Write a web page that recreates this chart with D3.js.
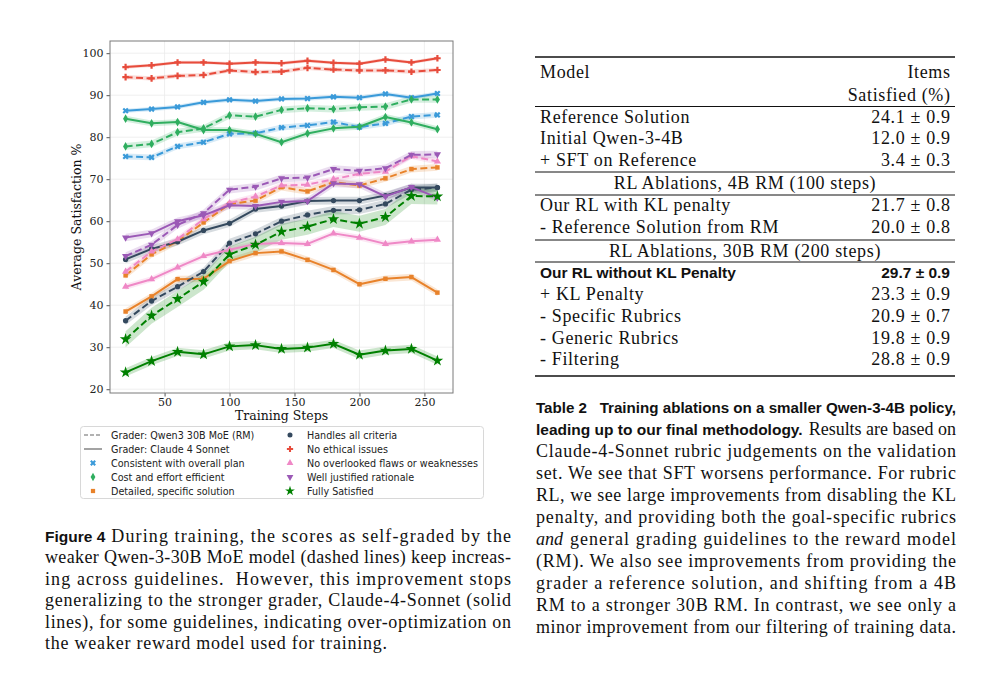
<!DOCTYPE html>
<html><head><meta charset="utf-8">
<script src="https://cdn.jsdelivr.net/npm/d3@7"></script>
<style>
body{margin:0;background:#fff;}
svg{display:block;}
</style></head>
<body>
<svg id="c" width="990" height="675"></svg>
<script>
// ---------------- DATA ----------------
const steps = [20,40,60,80,100,120,140,160,180,200,220,240,260];
const xTicks = [50,100,150,200,250];
const yTicks = [20,30,40,50,60,70,80,90,100];

const consistentQwen   = [75.4,75.2,77.8,78.8,80.8,80.9,82.3,82.8,83.6,82.4,83.3,84.9,85.3];
const consistentClaude = [86.3,86.7,87.2,88.3,88.9,88.6,89.1,89.2,89.6,89.4,90.3,89.4,90.4];
const costQwen         = [77.8,78.4,81.2,82.1,85.2,84.9,86.5,86.9,86.7,87.1,87.3,89.0,89.0];
const costClaude       = [84.4,83.3,83.6,81.7,81.7,80.8,78.8,80.9,82.1,82.5,84.8,83.5,81.9];
const detailedQwen     = [47.1,52.1,55.2,59.7,64.1,64.9,68.1,67.1,69.3,68.5,70.2,72.4,72.8];
const detailedClaude   = [38.5,42.1,46.2,46.3,50.5,52.4,52.8,50.8,48.4,45.0,46.3,46.7,43.0];
const handlesQwen      = [36.3,41.0,44.4,48.0,54.8,57.0,60.0,61.5,62.6,62.7,64.1,67.5,68.0];
const handlesClaude    = [50.9,53.4,55.1,57.8,59.5,62.9,63.6,64.8,64.9,64.9,66.1,68.0,68.0];
const ethicalQwen      = [94.3,94.0,94.6,94.8,95.9,95.5,95.6,96.5,96.1,95.9,95.9,95.6,96.0];
const ethicalClaude    = [96.7,97.1,97.8,97.8,97.5,97.8,97.6,98.2,97.7,97.5,98.5,97.8,98.8];
const overlookedQwen   = [48.0,52.8,55.7,60.5,64.3,65.9,68.5,68.7,70.0,71.3,71.8,75.5,74.2];
const overlookedClaude = [44.4,46.2,49.0,51.7,53.2,54.6,54.8,54.6,57.1,56.1,54.6,55.2,55.6];
const justifiedQwen    = [51.7,54.4,59.1,61.9,67.5,68.2,70.2,70.4,72.4,72.0,72.6,75.8,75.9];
const justifiedClaude  = [56.1,57.1,60.0,61.4,63.8,63.6,64.6,64.8,69.0,68.8,65.9,68.1,65.6];
const fullyQwen        = [31.9,37.5,41.5,45.6,52.1,54.4,57.5,58.7,60.5,59.4,61.0,66.0,65.9];
const fullyClaude      = [24.0,26.7,28.9,28.3,30.2,30.5,29.6,29.9,30.8,28.2,29.2,29.6,26.8];

// half-width of shaded bands (qwen, claude)
const bandQwen   = [0.7,0.8,0.8,1.0,0.5,0.7,0.9,1.9];
const bandClaude = [0.5,0.7,0.8,0.9,0.4,0.7,0.9,1.0];

const guidelines = ["Consistent with overall plan","Cost and effort efficient","Detailed, specific solution",
  "Handles all criteria","No ethical issues","No overlooked flaws or weaknesses","Well justified rationale","Fully Satisfied"];
const colors = ["#3a9ad9","#2fae5f","#e8822a","#34495e","#e74c3c","#ef88c6","#9b59b6","#008000"];
const markers = ["x","diamond","square","circle","plus","tri","tridown","star"];
const qwenSeries = [consistentQwen,costQwen,detailedQwen,handlesQwen,ethicalQwen,overlookedQwen,justifiedQwen,fullyQwen];
const claudeSeries = [consistentClaude,costClaude,detailedClaude,handlesClaude,ethicalClaude,overlookedClaude,justifiedClaude,fullyClaude];

const tableRows = [
  {type:"row", model:"Reference Solution", val:"24.1 ± 0.9"},
  {type:"row", model:"Initial Qwen-3-4B", val:"12.0 ± 0.9"},
  {type:"row", model:"+ SFT on Reference", val:"3.4 ± 0.3"},
  {type:"sec", model:"RL Ablations, 4B RM (100 steps)"},
  {type:"row", model:"Our RL with KL penalty", val:"21.7 ± 0.8"},
  {type:"row", model:"- Reference Solution from RM", val:"20.0 ± 0.8"},
  {type:"sec", model:"RL Ablations, 30B RM (200 steps)"},
  {type:"bold", model:"Our RL without KL Penalty", val:"29.7 ± 0.9"},
  {type:"row", model:"+ KL Penalty", val:"23.3 ± 0.9"},
  {type:"row", model:"- Specific Rubrics", val:"20.9 ± 0.7"},
  {type:"row", model:"- Generic Rubrics", val:"19.8 ± 0.9"},
  {type:"row", model:"- Filtering", val:"28.8 ± 0.9"}
];

// ---------------- DRAW ----------------
const svg = d3.select("#c");
const SERIF = "'DejaVu Serif', serif";
const SANS = "'DejaVu Sans', sans-serif";
const TSERIF = "'Liberation Serif', 'Times New Roman', serif";
const BSANS = "'Liberation Sans', Arial, sans-serif";
const FS = 18;
const LS = 0.65; // letter spacing for table serif text

const L=110,R=453,T=41,B=393;
const x = d3.scaleLinear().domain([8,272]).range([L,R]);
const y = d3.scaleLinear().domain([19.1,102.9]).range([B,T]);

const plot = svg.append("g");
plot.append("rect").attr("x",L).attr("y",T).attr("width",R-L).attr("height",B-T).attr("fill","#fff");
// grid
plot.append("g").selectAll("line").data(xTicks).join("line")
  .attr("x1",d=>x(d)).attr("x2",d=>x(d)).attr("y1",T).attr("y2",B).attr("stroke","#ebebeb").attr("stroke-width",0.8);
plot.append("g").selectAll("line").data(yTicks).join("line")
  .attr("y1",d=>y(d)).attr("y2",d=>y(d)).attr("x1",L).attr("x2",R).attr("stroke","#ebebeb").attr("stroke-width",0.8);

// axes
const xAxis = d3.axisBottom(x).tickValues(xTicks).tickSize(3.5).tickPadding(2);
const yAxis = d3.axisLeft(y).tickValues(yTicks).tickSize(3.5).tickPadding(3);
const gx = svg.append("g").attr("transform",`translate(0,${B})`).call(xAxis);
const gy = svg.append("g").attr("transform",`translate(${L},0)`).call(yAxis);
[gx,gy].forEach(g=>{
  g.select(".domain").remove();
  g.selectAll(".tick line").attr("stroke","#555");
  g.selectAll(".tick text").attr("font-family",SERIF).attr("font-size",11).attr("fill","#222");
});

// symbols
function symPath(m, size){
  const map = {x:d3.symbolCross, diamond:d3.symbolDiamond, square:d3.symbolSquare, circle:d3.symbolCircle,
               plus:d3.symbolCross, tri:d3.symbolTriangle, tridown:d3.symbolTriangle, star:d3.symbolStar};
  return d3.symbol().type(map[m]).size(size)();
}
function symRot(m){ return m==="x"?45:(m==="tridown"?180:0); }
function symSize(m){ return m==="star"?42:(m==="square"?20:(m==="circle"?22:(m==="x"||m==="plus")?24:22)); }

const line = d3.line().x((d,i)=>x(steps[i])).y(d=>y(d));
const area = (bw)=>d3.area().x((d,i)=>x(steps[i])).y0(d=>y(d-bw)).y1(d=>y(d+bw));

svg.append("clipPath").attr("id","pc").append("rect").attr("x",L).attr("y",T).attr("width",R-L).attr("height",B-T);
const dataG = svg.append("g").attr("clip-path","url(#pc)");

guidelines.forEach((g,k)=>{
  const c = colors[k];
  [[qwenSeries[k],bandQwen[k]],[claudeSeries[k],bandClaude[k]]].forEach(([vals,bw])=>{
    dataG.append("path").datum(vals).attr("d",area(bw)).attr("fill",c).attr("fill-opacity",0.2).attr("stroke","none");
  });
});
guidelines.forEach((g,k)=>{
  const c = colors[k];
  [[qwenSeries[k],true],[claudeSeries[k],false]].forEach(([vals,dashed])=>{
    dataG.append("path").datum(vals).attr("d",line).attr("fill","none").attr("stroke",c)
      .attr("stroke-width",2).attr("stroke-dasharray",dashed?"7,3.5":null).attr("stroke-linejoin","round");
    dataG.append("g").selectAll("path").data(vals).join("path")
      .attr("d",symPath(markers[k],symSize(markers[k])))
      .attr("transform",(d,i)=>`translate(${x(steps[i])},${y(d)}) rotate(${symRot(markers[k])})`)
      .attr("fill",c);
  });
});

// frame
svg.append("rect").attr("x",L).attr("y",T).attr("width",R-L).attr("height",B-T)
  .attr("fill","none").attr("stroke","#7a7a7a").attr("stroke-width",1);

// axis titles
svg.append("text").attr("x",(L+R)/2).attr("y",420).attr("text-anchor","middle")
  .attr("font-family",SERIF).attr("font-size",12.5).attr("fill","#111").text("Training Steps");
svg.append("text").attr("transform",`translate(81,${(T+B)/2}) rotate(-90)`).attr("text-anchor","middle")
  .attr("font-family",SERIF).attr("font-size",12.5).attr("fill","#111").text("Average Satisfaction %");

// legend
const lg = svg.append("g");
lg.append("rect").attr("x",80.5).attr("y",426.5).attr("width",403).attr("height",72).attr("rx",3)
  .attr("fill","#fff").attr("stroke","#d8d8d8");
const rowsY = [435,449,463,477,491];
const leftItems = [
  {kind:"line",dash:true,label:"Grader: Qwen3 30B MoE (RM)"},
  {kind:"line",dash:false,label:"Grader: Claude 4 Sonnet"},
  {kind:"sym",k:0},{kind:"sym",k:1},{kind:"sym",k:2}
];
const rightItems = [{kind:"sym",k:3},{kind:"sym",k:4},{kind:"sym",k:5},{kind:"sym",k:6},{kind:"sym",k:7}];
function drawLegendItem(it, cx, tx, yy){
  if(it.kind==="line"){
    lg.append("line").attr("x1",cx-9).attr("x2",cx+9).attr("y1",yy).attr("y2",yy).attr("stroke","#666")
      .attr("stroke-width",1.2).attr("stroke-dasharray",it.dash?"4,2":null);
  } else {
    const m = markers[it.k];
    lg.append("path").attr("d",symPath(m, m==="star"?30:symSize(m)*0.9))
      .attr("transform",`translate(${cx},${yy}) rotate(${symRot(m)})`).attr("fill",colors[it.k]);
  }
  lg.append("text").attr("x",tx).attr("y",yy+3.5).attr("font-family",SANS).attr("font-size",9.6).attr("fill","#222")
    .text(it.label || guidelines[it.k]);
}
leftItems.forEach((it,i)=>drawLegendItem(it,93,111,rowsY[i]));
rightItems.forEach((it,i)=>drawLegendItem(it,290,307,rowsY[i]));

// ---------- text helpers ----------
function textLine(parts, x0, x1, yb, justify){
  let cur = x0;
  parts.forEach((p,i)=>{
    const t = svg.append("text").attr("x",cur).attr("y",yb).attr("font-family",p.family)
      .attr("font-size",p.size).attr("font-weight",p.weight||"normal").attr("font-style",p.style||"normal")
      .attr("fill","#111").attr("xml:space","preserve").text(p.t);
    const w = t.node().getComputedTextLength();
    if(i < parts.length-1){ cur += w + (p.gap!==undefined?p.gap:5); }
    else if(justify){
      const target = x1 - cur;
      t.attr("textLength",target).attr("lengthAdjust", w<=target? "spacing":"spacingAndGlyphs");
    }
  });
}
const S = (t)=>({t, family:TSERIF, size:FS});
const BS = (t,g)=>({t, family:BSANS, size:15.5, weight:"bold", gap:g});

// Figure caption
const fx0=45, fx1=511;
const fcap = [
  [[BS("Figure 4",6), S("During training, the scores as self-graded by the")],true,fx1],
  [[S("weaker Qwen-3-30B MoE model (dashed lines) keep increas-")],true,fx1],
  [[S("ing across guidelines.  However, this improvement stops")],true,fx1],
  [[S("generalizing to the stronger grader, Claude-4-Sonnet (solid")],true,fx1],
  [[S("lines), for some guidelines, indicating over-optimization on")],true,fx1],
  [[S("the weaker reward model used for training.")],true,387]
];
fcap.forEach((l,i)=>textLine(l[0],fx0,l[2],542+i*21.4,l[1]));

// Table caption
const tx0=536, tx1=956;
const tcap = [
  [[BS("Table 2   Training ablations on a smaller Qwen-3-4B policy,")],true],
  [[BS("leading up to our final methodology.",6), S("Results are based on")],true],
  [[S("Claude-4-Sonnet rubric judgements on the validation")],true],
  [[S("set. We see that SFT worsens performance. For rubric")],true],
  [[S("RL, we see large improvements from disabling the KL")],true],
  [[S("penalty, and providing both the goal-specific rubrics")],true],
  [[{t:"and",family:TSERIF,size:FS,style:"italic",gap:7}, S("general grading guidelines to the reward model")],true],
  [[S("(RM). We also see improvements from providing the")],true],
  [[S("grader a reference solution, and shifting from a 4B")],true],
  [[S("RM to a stronger 30B RM. In contrast, we see only a")],true],
  [[S("minor improvement from our filtering of training data.")],true]
];
tcap.forEach((l,i)=>textLine(l[0],tx0,tx1,413+i*22,l[1]));

// Table
const tb = svg.append("g");
const TL=535, TR=955, cx0=540, cx1=950;
const rule=(yy,w)=>tb.append("line").attr("x1",TL).attr("x2",TR).attr("y1",yy).attr("y2",yy).attr("stroke","#111").attr("stroke-width",w);
rule(57,1.6);
const ttext=(xx,yy,anchor,txt,bold)=>tb.append("text").attr("x",xx).attr("y",yy).attr("text-anchor",anchor)
  .attr("font-family",bold?BSANS:TSERIF).attr("font-weight",bold?"bold":"normal")
  .attr("font-size",bold?15.5:FS).attr("letter-spacing",bold?0:LS).attr("fill","#111").text(txt);
ttext(cx0,78,"start","Model",false);
ttext(cx1+LS,78,"end","Items",false);
ttext(cx1+LS,101,"end","Satisfied (%)",false);
rule(106.5,1);
const rowBase = [122.5,144.2,166,188.5,211,233,256.5,278,300,321.8,343.5,365.3];
const secRules = {3:[172,195], 6:[240,262]};
tableRows.forEach((r,i)=>{
  const yb = rowBase[i];
  if(r.type==="sec"){
    ttext((TL+TR)/2,yb,"middle",r.model,false);
    secRules[i].forEach(v=>rule(v,1));
  } else {
    const bold = r.type==="bold";
    ttext(cx0,yb,"start",r.model,bold);
    ttext(bold?cx1:cx1+LS,yb,"end",r.val,bold);
  }
});
rule(376,1.6);
</script>
</body></html>
